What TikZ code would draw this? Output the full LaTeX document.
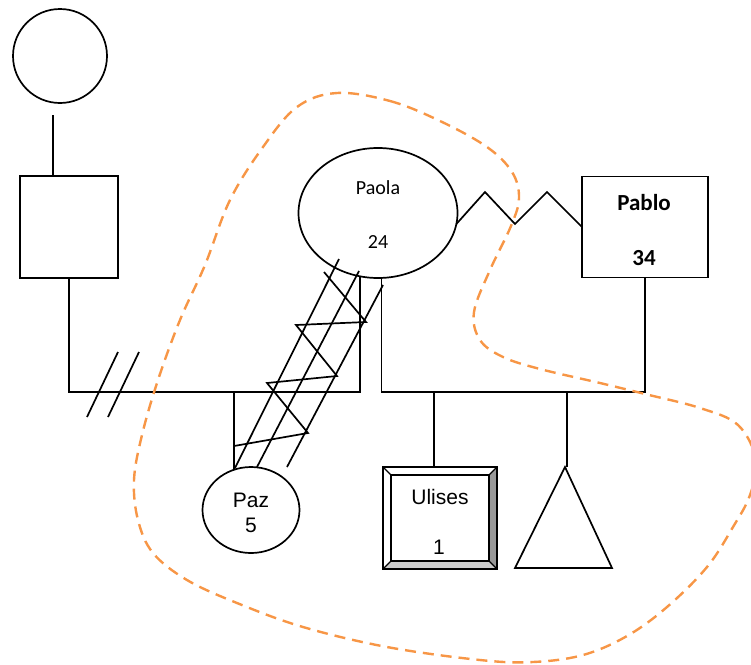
\documentclass[tikz,border=0pt]{standalone}
\usepackage{fontspec}
\setmainfont{Carlito}
\newfontfamily\arialfont{Liberation Sans}
\usetikzlibrary{positioning}
\usetikzlibrary{shapes.geometric}
\definecolor{ecoorange}{HTML}{F79646}

\begin{document}
\begin{tikzpicture}[x=1pt, y=-1pt, line width=1.7pt,
    male/.style={rectangle, draw, inner sep=0, outer sep=0},
    female/.style={ellipse, draw, inner sep=0, outer sep=0},
    txt/.style={font=\fontsize{20}{24}\selectfont},
    boldtxt/.style={font=\bfseries\fontsize{23}{28}\selectfont},
    arialtxt/.style={font=\arialfont\fontsize{21}{25}\selectfont}]
    \useasboundingbox (0,0) rectangle (751,664);

    % people
    \draw (60,56) node[female, minimum size=94] (gran) {};
    \draw (69,227) node[male, minimum width=98, minimum height=102] (ex) {};
    \draw (378,213) node[female, minimum width=159, minimum height=130] (paola) {};
    \draw (645,227) node[male, minimum width=126, minimum height=101] (pablo) {};
    \draw (251,510) node[female, minimum width=97, minimum height=86] (paz) {};
    \draw (440,518) node[male, minimum width=114, minimum height=102] (ulises) {};
    \draw (565,467) coordinate (tri) -- (612,568) -- (515,568) -- cycle;

    % names
    \draw (378,188) node[txt] (paolaname) {Paola};
    \draw (378,242) node[txt] (paolaage) {24};
    \draw (644,203) node[boldtxt] (pabloname) {Pablo};
    \draw (644,258) node[boldtxt] (pabloage) {34};
    \draw (251,500) node[arialtxt] (pazname) {Paz};
    \draw (251,525) node[arialtxt] (pazage) {5};

    % bevel of ulises
    \fill[black!40] (ulises.north east) -- (ulises.south east) -- ++(-8,-8) -- ([shift={(-8,8)}]ulises.north east) -- cycle;
    \fill[black!20] (ulises.south west) -- (ulises.south east) -- ++(-8,-8) -- ([shift={(8,-8)}]ulises.south west) -- cycle;
    \draw[line width=1.2pt] ([shift={(8,8)}]ulises.north west) rectangle ([shift={(-8,-8)}]ulises.south east);
    \foreach \c/\s in {north west/{(8,8)}, north east/{(-8,8)}, south west/{(8,-8)}, south east/{(-8,-8)}}{
        \draw[line width=1.2pt] (ulises.\c) -- ([shift=\s]ulises.\c);
    }
    \draw (ulises.north west) rectangle (ulises.south east);
    \draw (440,497) node[arialtxt] (ulisesname) {Ulises};
    \draw (439,547) node[arialtxt] (ulisesage) {1};

    % family lines
    \coordinate (rel) at (0,392);
    \draw ([shift={(-7,12)}]gran.south) -- ([xshift=-16pt]ex.north);
    \draw (paola.254) |- (rel -| ex.south) -- (ex.south);
    \draw (paola.273) |- (rel -| pablo.south) -- (pablo.south);
    \draw (paz.113) -- (paz.113 |- rel);
    \coordinate (ulisestop) at ([xshift=-6pt]ulises.north);
    \draw (ulisestop) -- (ulisestop |- rel);
    \draw ([xshift=2pt]tri) -- ([xshift=2pt]tri |- rel);
    \foreach \dx in {0,21}{
        \draw (87+\dx,417) -- (118+\dx,352);
    }

    % union paola - pablo
    \draw (paola.-8) -- (485,192) -- (515,224) -- (547,192) -- (pablo.west);

    % conflict paola - paz
    \foreach \xa/\ya/\xb/\yb in {339/259/235/468, 359/271/257/467, 383/285/287/467}{
        \draw (\xa,\ya) -- (\xb,\yb);
    }
    \draw (324,272) -- (366,322) -- (296,325) -- (337,376) -- (267,383) -- (308,433) -- (234,446);

    % household
    \draw[ecoorange, line width=2.4pt, dash pattern=on 11pt off 7pt]
        plot[smooth cycle, tension=0.6] coordinates {
        (337,93) (390,101) (440,121) (487,147) (512,172) (519,198) (511,226)
        (490,270) (474,312) (480,340) (503,357) (540,369) (600,383) (645,394)
        (700,408) (738,425) (756,460) (750,495) (733,527) (707,567) (667,607)
        (627,636) (583,655) (533,662) (480,660) (387,647) (303,627) (237,603)
        (187,580) (153,553) (138,520) (134,480) (142,435) (158,380) (180,320)
        (205,265) (230,200) (263,147) (297,107)};
\end{tikzpicture}
\end{document}
